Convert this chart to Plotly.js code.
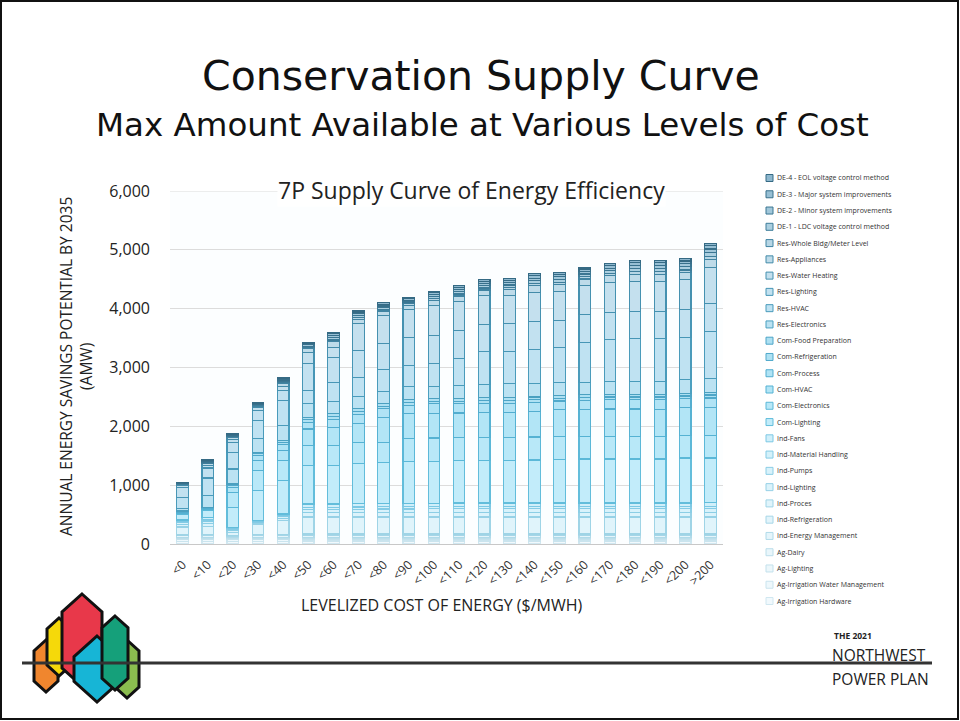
<!DOCTYPE html>
<html>
<head>
<meta charset="utf-8">
<script src="https://cdn.plot.ly/plotly-3.0.1.min.js"></script>
<style>html,body{margin:0;padding:0;background:#fff;}#chart{width:960px;height:721px;}</style>
</head>
<body>
<div id="chart"></div>
<script>
// ---------------- DATA ----------------
const categories = ["<0","<10","<20","<30","<40","<50","<60","<70","<80","<90","<100","<110","<120","<130","<140","<150","<160","<170","<180","<190","<200",">200"];

// bottom of stack first
const agIrrHardware   = [48,48,49,49,49,50,50,50,50,50,50,50,50,50,50,50,50,50,50,50,50,50];
const agIrrWater      = [34,34,34,34,34,35,35,35,35,35,35,35,35,35,35,35,35,35,35,35,35,35];
const agLighting      = [12,12,12,12,12,12,12,12,12,12,12,12,12,12,12,12,12,12,12,12,12,12];
const agDairy         = [19,19,18,18,18,18,18,18,18,18,18,18,18,18,18,18,18,18,18,18,18,18];
const indEnergyMgmt   = [25,26,22,28,30,32,32,32,32,32,32,32,32,32,32,32,32,32,32,32,32,32];
const indRefrigeration= [15,16,13,18,20,22,22,22,22,22,22,22,22,22,22,22,22,22,22,22,22,22];
const indProces       = [137,145,52,181,234,291,291,291,291,291,291,291,291,291,291,291,291,291,291,291,291,291];
const indLighting     = [40,52,30,20,38,75,75,76,78,78,80,80,80,80,80,80,80,80,80,80,80,82];
const indPumps        = [30,40,20,14,30,55,55,56,57,57,58,59,59,59,59,59,59,59,59,59,59,60];
const indMatHandling  = [18,22,14,9,17,35,35,36,37,37,38,38,38,38,38,38,38,38,38,38,38,39];
const indFans         = [30,40,20,14,28,55,55,57,58,58,59,60,60,60,60,60,60,60,60,60,60,61];
const comLighting     = [91,113,340,510,567,653,653,687,699,716,711,720,720,720,731,743,749,749,749,749,766,761];
const comElectronics  = [21,23,255,340,340,340,340,357,340,391,397,397,397,397,392,386,385,385,385,385,380,380];
const comHVAC         = [20,15,85,170,171,283,311,324,426,415,420,414,426,426,437,454,454,465,465,459,482,482];
const comProcess      = [10,9,30,85,100,110,130,145,142,141,159,154,153,153,152,150,155,155,155,160,142,155];
const comRefrigeration= [5,5,13,30,36,45,50,50,44,50,45,45,46,46,46,45,48,47,47,48,50,52];
const comFoodPrep     = [5,5,13,27,34,44,48,49,41,47,40,40,45,45,45,45,47,47,47,47,46,48];
const resElectronics  = [40,198,256,238,255,238,215,215,215,226,209,226,226,238,233,219,215,216,216,216,227,238];
const resHVAC         = [194,301,283,301,425,215,312,323,363,358,397,466,562,555,578,606,675,715,726,726,725,794];
const resLighting     = [170,170,170,170,170,454,436,454,453,470,471,470,459,465,471,454,470,465,471,471,465,482];
const resWaterHeating = [26,37,51,52,72,199,171,453,471,476,510,493,493,482,499,499,499,510,504,504,510,601];
const resAppliances   = [20,35,32,27,50,57,90,80,75,76,85,95,95,100,110,113,110,110,125,125,125,147];
const resWholeBldg    = [8,12,11,9,17,20,30,27,26,26,29,33,33,34,37,39,37,37,43,43,43,50];
const de1             = [9,15,14,12,22,25,38,34,32,32,37,41,41,43,47,48,47,47,54,54,54,63];
const de2             = [8,14,13,11,20,23,35,32,30,30,34,38,38,40,44,45,44,44,50,50,50,59];
const de3             = [8,13,12,10,19,21,33,30,28,28,32,35,35,37,41,42,41,41,47,47,47,54];
const de4             = [6,10,9,9,16,18,28,24,24,24,27,30,30,30,33,36,33,33,39,39,39,46];

const seriesNames = [
  "Ag-Irrigation Hardware","Ag-Irrigation Water Management","Ag-Lighting","Ag-Dairy",
  "Ind-Energy Management","Ind-Refrigeration","Ind-Proces","Ind-Lighting","Ind-Pumps",
  "Ind-Material Handling","Ind-Fans","Com-Lighting","Com-Electronics","Com-HVAC",
  "Com-Process","Com-Refrigeration","Com-Food Preparation","Res-Electronics","Res-HVAC",
  "Res-Lighting","Res-Water Heating","Res-Appliances","Res-Whole Bldg/Meter Level",
  "DE-1 - LDC voltage control method","DE-2 - Minor system improvements",
  "DE-3 - Major system improvements","DE-4 - EOL voltage control method"
];
const seriesValues = [agIrrHardware,agIrrWater,agLighting,agDairy,indEnergyMgmt,indRefrigeration,
  indProces,indLighting,indPumps,indMatHandling,indFans,comLighting,comElectronics,comHVAC,
  comProcess,comRefrigeration,comFoodPrep,resElectronics,resHVAC,resLighting,resWaterHeating,
  resAppliances,resWholeBldg,de1,de2,de3,de4];

// ---------------- STYLE ----------------
const fills = ["#f1f9fd","#eef8fc","#ecf7fb","#e9f6fb","#e5f5fb","#e2f4fb","#e0f4fb","#dcf3fb","#d8f2fb",
  "#d4f1fa","#d0effa","#c2ecfa","#b8e8f8","#b2e5f6","#b0e3f5","#aee1f3","#ade0f2","#bbe2f2","#bfe2f2",
  "#c2e1f0","#c4e0ee","#bedbe9","#b7d6e5","#abcfe0","#a1c7da","#97bfd4","#8db7ce"];
const lines = ["#d0e7f0","#cae4ee","#c3e1ec","#bcdeea","#b0dae9","#a6d6e7","#9fd4e6","#96d1e6","#8ccee5",
  "#84cbe5","#7cc8e4","#62bddb","#5bb8d8","#55b2d3","#52adcf","#50a9cb","#4ea5c7","#4ba0c0","#499bbb",
  "#4796b6","#4591b0","#438ba9","#4184a2","#3e7d9a","#3b7692","#38708b","#356a84"];

const L = 170, R = 723, T = 191, B = 544;
const px = x => (x - L) / (R - L);
const py = y => (B - y) / (B - T);

const traces = seriesValues.map((vals, i) => ({
  type: "bar", name: seriesNames[i], x: categories, y: vals,
  marker: {color: fills[i], line: {color: lines[i], width: 1.2}},
  hoverinfo: "name+y"
}));

const annotations = [
  {text: "Conservation Supply Curve", x: px(481), y: py(76), xref: "paper", yref: "paper",
   showarrow: false, xanchor: "center", yanchor: "middle",
   font: {family: "DejaVu Sans, Verdana, sans-serif", size: 41, color: "#111"}},
  {text: "Max Amount Available at Various Levels of Cost", x: px(482), y: py(125), xref: "paper", yref: "paper",
   showarrow: false, xanchor: "center", yanchor: "middle",
   font: {family: "DejaVu Sans, Verdana, sans-serif", size: 32.5, color: "#111"}},
  {text: "7P Supply Curve of Energy Efficiency", x: px(471), y: py(190), xref: "paper", yref: "paper",
   showarrow: false, xanchor: "center", yanchor: "middle", bgcolor: "#ffffff", borderpad: 0,
   font: {family: "Open Sans, sans-serif", size: 23, color: "#222"}},
  {text: "ANNUAL ENERGY SAVINGS POTENTIAL BY 2035<br>(AMW)", x: px(76), y: py(367), xref: "paper", yref: "paper",
   showarrow: false, xanchor: "center", yanchor: "middle", textangle: -90,
   font: {family: "Open Sans, sans-serif", size: 15.5, color: "#222"}},
  {text: "LEVELIZED COST OF ENERGY ($/MWH)", x: px(442), y: py(605), xref: "paper", yref: "paper",
   showarrow: false, xanchor: "center", yanchor: "middle",
   font: {family: "Open Sans, sans-serif", size: 16, color: "#222"}},
  {text: "<b>THE 2021</b>", x: px(832), y: py(635), xref: "paper", yref: "paper", showarrow: false,
   xanchor: "left", yanchor: "middle", font: {family: "Open Sans, sans-serif", size: 8.5, color: "#222"}},
  {text: "NORTHWEST", x: px(830), y: py(655), xref: "paper", yref: "paper", showarrow: false,
   xanchor: "left", yanchor: "middle", font: {family: "Open Sans, sans-serif", size: 15.5, color: "#222"}},
  {text: "POWER PLAN", x: px(830), y: py(679), xref: "paper", yref: "paper", showarrow: false,
   xanchor: "left", yanchor: "middle", font: {family: "Open Sans, sans-serif", size: 15.5, color: "#222"}}
];

const shapes = [
  {type: "rect", xref: "paper", yref: "paper", x0: px(1), x1: px(958), y0: py(1), y1: py(719),
   line: {color: "#111", width: 2}, fillcolor: "rgba(0,0,0,0)"},
  {type: "line", xref: "paper", yref: "y", x0: 0, x1: 1, y0: 6000, y1: 6000, layer: "below",
   line: {color: "#dcdcdc", width: 1}}
];

// custom legend (top = last series)
const legTop = 178, legStep = 16.27;
for (let k = 0; k < seriesNames.length; k++) {
  const i = seriesNames.length - 1 - k;
  const yc = legTop + k * legStep;
  shapes.push({type: "rect", xref: "paper", yref: "paper", x0: px(766), x1: px(773), y0: py(yc + 3.5), y1: py(yc - 3.5),
    fillcolor: fills[i], line: {color: lines[i], width: 1}});
  annotations.push({text: seriesNames[i], x: px(775), y: py(yc), xref: "paper", yref: "paper", showarrow: false,
    xanchor: "left", yanchor: "middle", font: {family: "Open Sans, sans-serif", size: 7, color: "#333"}});
}

// logo
function hexPath(cx, top, bottom, w) {
  const t = w * 0.45, h = w / 2;
  const pts = [[cx, top], [cx + h, top + t], [cx + h, bottom - t], [cx, bottom], [cx - h, bottom - t], [cx - h, top + t]];
  return "M " + pts.map(p => px(p[0]) + "," + py(p[1])).join(" L ") + " Z";
}
const logo = [
  [46, 640, 692, 24, "#f0862e"],
  [59, 618, 676, 24, "#f5d90a"],
  [82, 594, 686, 40, "#e8384a"],
  [97, 636, 702, 46, "#17b5d6"],
  [127, 640, 698, 24, "#8bbd4f"],
  [115, 616, 690, 26, "#15a07a"]
];
logo.forEach(s => shapes.push({type: "path", xref: "paper", yref: "paper", path: hexPath(s[0], s[1], s[2], s[3]),
  fillcolor: s[4], line: {color: "#111", width: 3}}));
shapes.push({type: "line", xref: "paper", yref: "paper", x0: px(22), x1: px(932), y0: py(663), y1: py(663),
  line: {color: "#333", width: 3}});

const layout = {
  width: 960, height: 721,
  margin: {l: L, r: 960 - R, t: T, b: 721 - B, pad: 0},
  paper_bgcolor: "#ffffff", plot_bgcolor: "#fcfeff",
  barmode: "stack", bargap: 0.54, showlegend: false,
  xaxis: {type: "category", tickangle: -45, showgrid: false, showline: false, ticks: "",
    ticklabelstandoff: 10,
    range: [-0.5, 21.5], tickfont: {family: "Open Sans, sans-serif", size: 12.5, color: "#333"}},
  yaxis: {range: [0, 6000], tickvals: [0,1000,2000,3000,4000,5000,6000], tickformat: ",",
    gridcolor: "#dcdcdc", zeroline: true, zerolinecolor: "#c8c8c8", showline: false,
    ticklabelstandoff: 19, tickfont: {family: "Open Sans, sans-serif", size: 16, color: "#222"}},
  annotations: annotations, shapes: shapes,
  font: {family: "Open Sans, sans-serif"}
};

Plotly.newPlot("chart", traces, layout, {staticPlot: true, displayModeBar: false});
</script>
</body>
</html>
